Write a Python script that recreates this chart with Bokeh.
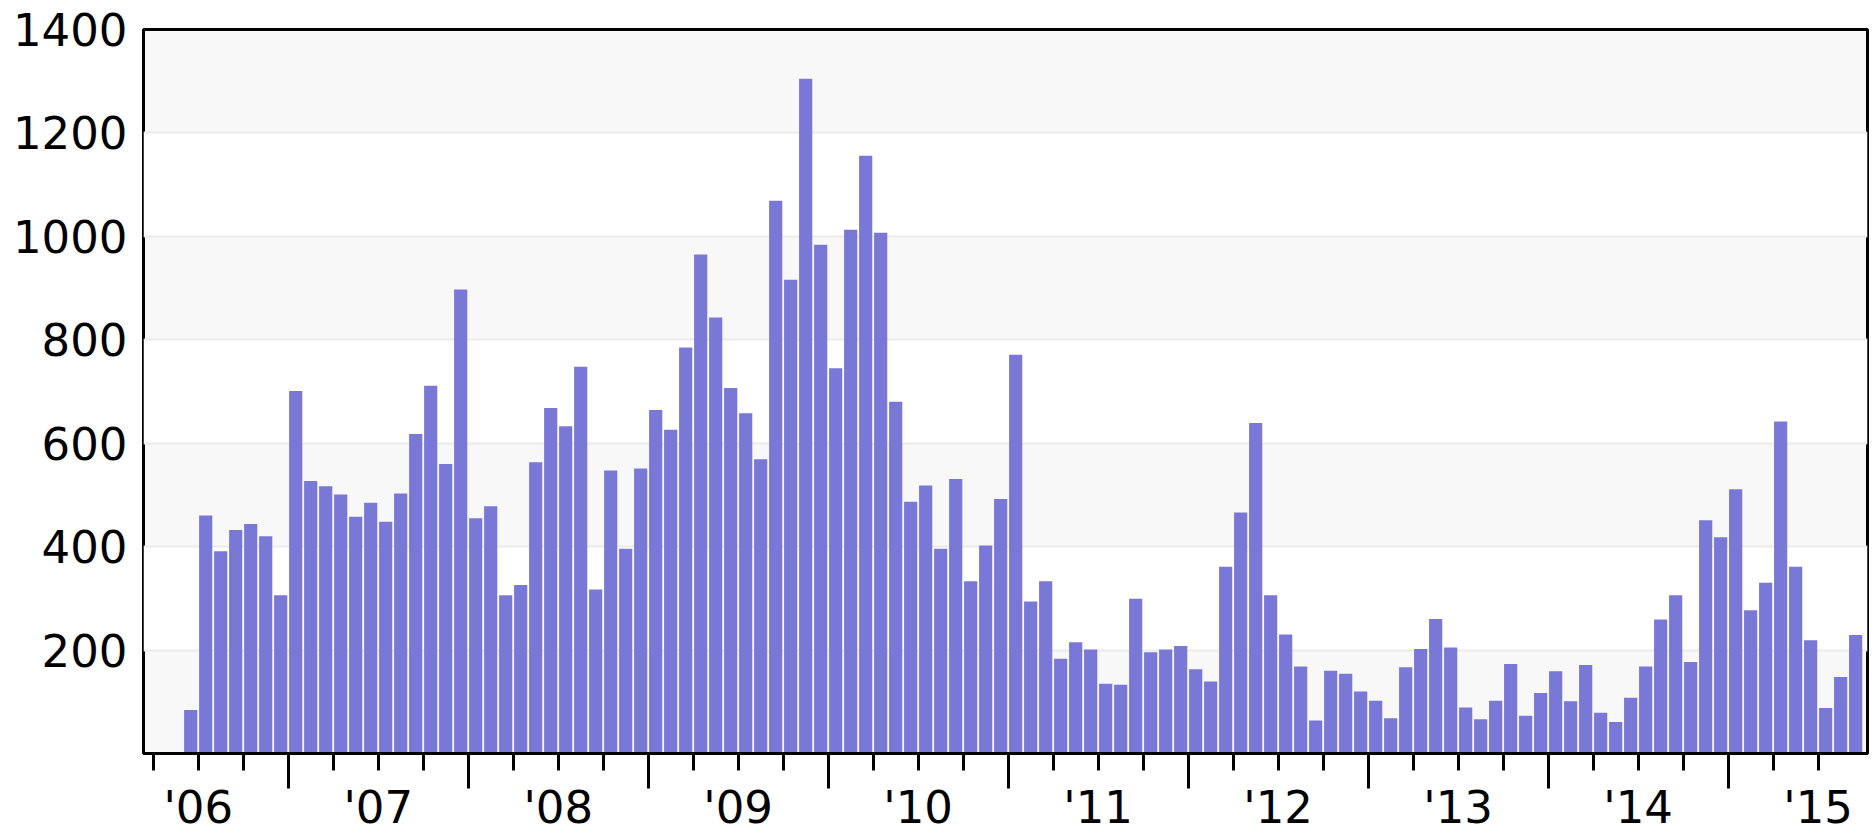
from bokeh.plotting import figure
from bokeh.models import FixedTicker, Range1d
from bokeh.embed import file_html
from bokeh.resources import INLINE

# Monthly values, Dec 2005 .. Mar 2015
values_2005 = [84]
values_2006 = [460, 391, 432, 444, 420, 306, 701, 527, 517, 501, 458, 485]
values_2007 = [448, 503, 618, 711, 560, 897, 455, 478, 306, 326, 563, 668]
values_2008 = [633, 748, 317, 547, 396, 551, 664, 626, 785, 965, 843, 707]
values_2009 = [658, 569, 1069, 916, 1305, 984, 745, 1013, 1156, 1007, 680, 487]
values_2010 = [518, 396, 531, 333, 402, 492, 771, 294, 333, 183, 215, 201]
values_2011 = [135, 133, 299, 196, 201, 208, 163, 139, 361, 466, 639, 306]
values_2012 = [230, 168, 64, 160, 154, 120, 102, 68, 167, 202, 260, 205]
values_2013 = [89, 66, 102, 173, 73, 117, 159, 101, 171, 79, 61, 108]
values_2014 = [168, 259, 306, 177, 451, 418, 511, 277, 330, 642, 361, 219]
values_2015 = [88, 148, 229]

series = [(2005, 12, values_2005), (2006, 1, values_2006), (2007, 1, values_2007),
          (2008, 1, values_2008), (2009, 1, values_2009), (2010, 1, values_2010),
          (2011, 1, values_2011), (2012, 1, values_2012), (2013, 1, values_2013),
          (2014, 1, values_2014), (2015, 1, values_2015)]

months = []
values = []
for year, start_month, vals in series:
    for k, v in enumerate(vals):
        months.append((year, start_month + k))
        values.append(v)

# x in months since Jan 2006; bar centered in its month
xs = [(y - 2006) * 12 + (m - 1) + 0.5 for (y, m) in months]

year_labels = ["'06", "'07", "'08", "'09", "'10", "'11", "'12", "'13", "'14", "'15"]
year_ticks = [12 * i for i in range(len(year_labels))]
quarter_ticks = [q for q in range(-3, 109, 3) if q % 12 != 6]
july_ticks = [q for q in range(6, 109, 12)]
y_ticks = [200, 400, 600, 800, 1000, 1200, 1400]
band_ticks = [0] + y_ticks

p = figure(width=1872, height=836,
           x_range=Range1d(-3.647, 111.29), y_range=Range1d(0, 1400),
           output_backend="svg", toolbar_location=None,
           min_border_left=143, min_border_right=5,
           min_border_top=29, min_border_bottom=78)

p.background_fill_color = "#f8f8f8"
p.border_fill_color = "white"
p.outline_line_color = "black"
p.outline_line_width = 3

p.vbar(x=xs, top=values, bottom=0, width=0.88,
       fill_color="#7a78d6", line_color=None)

# grid (alternating bands)
p.xgrid.visible = False
p.ygrid.ticker = FixedTicker(ticks=band_ticks)
p.ygrid.grid_line_color = "#ebebeb"
p.ygrid.grid_line_width = 2
p.ygrid.band_fill_color = "white"
p.ygrid.band_fill_alpha = 1.0

# y axis
ya = p.yaxis[0]
ya.ticker = FixedTicker(ticks=y_ticks)
ya.major_tick_out = 0
ya.major_tick_in = 0
ya.minor_tick_out = 0
ya.minor_tick_in = 0
ya.axis_line_color = None
ya.major_label_standoff = 16
ya.major_label_text_font = "DejaVu Sans"
ya.major_label_text_font_size = "45px"
ya.major_label_text_color = "black"

# x axis
xa = p.xaxis[0]
xa.ticker = FixedTicker(ticks=quarter_ticks, minor_ticks=july_ticks)
overrides = {t: "" for t in quarter_ticks}
for t, lab in zip(year_ticks, year_labels):
    overrides[t] = lab
xa.major_label_overrides = overrides
xa.axis_line_color = "black"
xa.axis_line_width = 3
xa.major_tick_out = 17
xa.major_tick_in = 0
xa.minor_tick_out = 35
xa.minor_tick_in = 0
xa.major_tick_line_width = 3
xa.minor_tick_line_width = 3
xa.major_tick_line_color = "black"
xa.minor_tick_line_color = "black"
xa.major_label_standoff = -8
xa.major_label_text_font = "DejaVu Sans"
xa.major_label_text_font_size = "45px"
xa.major_label_text_color = "black"

open("out.html", "w").write(file_html(p, INLINE))
